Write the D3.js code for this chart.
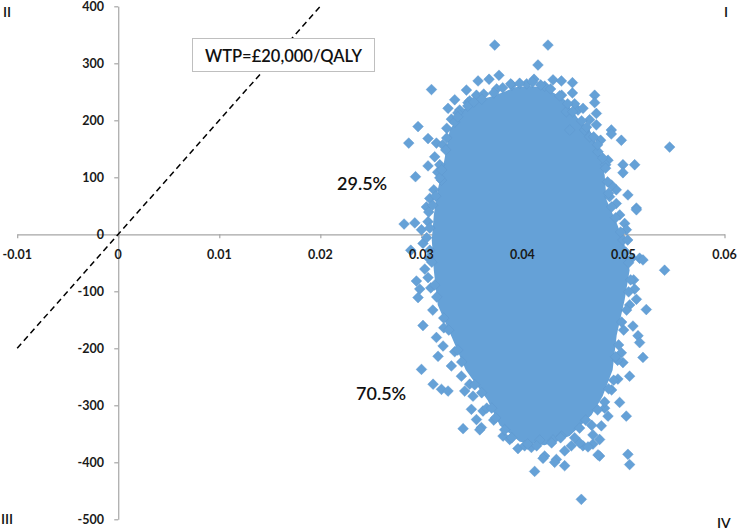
<!DOCTYPE html>
<html><head><meta charset="utf-8">
<script src="https://cdn.jsdelivr.net/npm/d3@7"></script>
<style>
html,body{margin:0;padding:0;background:#fff;}
svg{display:block;}
</style></head>
<body>
<svg id="chart" width="740" height="530"></svg>
<script>
// ---- data ----
const xTicks = [-0.01, 0, 0.01, 0.02, 0.03, 0.04, 0.05, 0.06];
const xTickLabels = ["-0.01", "0", "0.01", "0.02", "0.03", "0.04", "0.05", "0.06"];
const yTicks = [400, 300, 200, 100, 0, -100, -200, -300, -400, -500];
const yTickLabels = ["400", "300", "200", "100", "0", "-100", "-200", "-300", "-400", "-500"];
const wtpThreshold = 20000;               // £ per QALY
const wtpEffectRange = [-0.01, 0.02];
const wtpLabel = "WTP=£20,000/QALY";
const quadrantLabels = ["I", "II", "III", "IV"];
const shareAbove = "29.5%";
const shareBelow = "70.5%";

// dense core of the simulation cloud (outline: incremental QALY, incremental cost)
const coreEffect = [0.03676,0.03824,0.03923,0.04072,0.04220,0.04329,0.04418,0.04546,0.04665,0.04764,0.04814,0.04833,0.04942,0.05012,0.05061,0.05012,0.04933,0.04893,0.04794,0.04685,0.04467,0.04220,0.03973,0.03775,0.03656,0.03439,0.03300,0.03162,0.03123,0.03103,0.03123,0.03162,0.03222,0.03281,0.03410,0.03558];
const coreCost   = [241,250,258,260,257,246,236,204,183,148,104,60,16,-19,-63,-115,-177,-238,-284,-317,-354,-370,-364,-335,-291,-238,-180,-124,-63,-10,34,78,125,183,218,236];

// individual simulations visible around the core
const pointEffect = [
0.03726,0.04253,0.04154,0.03768,0.03100,0.03561,0.03670,0.03446,0.03545,0.03330,
0.03264,0.04115,0.04303,0.04386,0.04495,0.04495,0.04715,0.04715,0.04732,0.04732,
0.04435,0.04550,0.04600,0.02967,0.04880,0.03461,0.03379,0.03297,0.02875,0.03066,
0.03149,0.03132,0.03182,0.03066,0.02942,0.03199,0.03083,0.03050,0.02829,0.02935,
0.03066,0.03001,0.04880,0.04979,0.05457,0.04468,0.04616,0.04665,0.04748,0.04847,
0.04995,0.05111,0.04995,0.04929,0.05044,0.05128,0.04863,0.04929,0.05012,0.05029,
0.05128,0.04995,0.05160,0.05193,0.05407,0.03016,0.02895,0.03034,0.03066,0.02951,
0.02984,0.02967,0.03016,0.03149,0.03215,0.03165,0.03001,0.03116,0.03199,0.03264,
0.03297,0.03396,0.03429,0.03511,0.03495,0.03610,0.03545,0.03594,0.03413,0.03808,
0.03874,0.03956,0.04089,0.04121,0.05111,0.05128,0.05226,0.05094,0.05144,0.05160,
0.05193,0.04979,0.04995,0.05061,0.04945,0.04962,0.05028,0.04847,0.04781,0.04764,
0.04698,0.04764,0.05044,0.05061,0.04599,0.04484,0.04418,0.04336,0.04418,0.04220,
0.04583,0.04319,0.04204,0.04748,0.04566,0.04649,0.04303,0.04386,0.04698,0.03578,
0.03617,0.03745,0.03894,0.04042,0.04220,0.03478,0.03360,0.03251,0.03211,0.03162,
0.03123,0.03073,0.03053,0.03073,0.03093,0.03113,0.03222,0.03330,0.03478,0.03647,
0.03716,0.04022,0.04171,0.04517,0.04685,0.04814,0.04883,0.04942,0.05002,0.05061,
0.05101,0.05081,0.05042,0.04963,0.04883,0.04824,0.04774,0.04665,0.04517,0.04388,
0.03597,0.03716,0.03805,0.03884,0.03973,0.04101,0.04181,0.04279,0.04368,0.04448,
0.04497,0.04586,0.04635,0.04705,0.04744,0.04794,0.04823,0.04843,0.04853,0.04883,
0.04922,0.04972,0.05021,0.05051,0.05071,0.05051,0.05031,0.04982,0.04952,0.04922,
0.04903,0.04853,0.04814,0.04744,0.04626,0.04566,0.04378,0.04289,0.04141,0.04052,
0.03894,0.03825,0.03735,0.03696,0.03597,0.03528,0.03399,0.03360,0.03271,0.03221,
0.03152,0.03132,0.03103,0.03083,0.03083,0.03112,0.03142,0.03182,0.03201,0.03241,
0.03251,0.03330,0.03360,0.03459,0.03518];
const pointCost = [
332,332,297,279,254,269,272,253,244,236,
221,272,271,269,266,248,244,231,212,192,
215,218,221,189,183,231,218,202,160,168,
160,136,122,120,101,95,63,48,18,20,
22,8,176,165,153,183,183,171,145,130,
122,122,108,78,69,46,66,54,19,8,
43,-10,-42,-45,-63,-16,-28,-61,-76,-82,
-96,-111,-160,-181,-196,-214,-237,-263,-272,-275,
-231,-249,-275,-284,-307,-310,-325,-339,-341,-354,
-360,-376,-374,-416,-96,-114,-132,-161,-178,-190,
-216,-208,-225,-249,-254,-295,-319,-319,-336,-360,
-368,-389,-386,-404,-371,-371,-380,-395,-406,-389,
-465,-400,-393,-387,-366,-373,-361,-354,-352,-343,
246,255,262,264,260,234,213,186,157,109,
78,39,-6,-42,-94,-133,-164,-206,-263,-305,
-326,-371,-361,-357,-335,-305,-273,-221,-168,-124,
-80,-42,-10,34,86,122,165,201,229,244,
237,248,257,264,265,267,262,255,243,229,
215,199,188,171,157,134,116,92,72,48,
29,4,-31,-50,-80,-101,-133,-154,-194,-215,
-256,-271,-294,-308,-326,-340,-357,-366,-371,-368,
-357,-343,-322,-305,-278,-264,-224,-203,-168,-147,
-110,-89,-49,-28,11,51,67,99,113,148,
169,197,206,225,232];

// ---- drawing ----
const svg = d3.select("#chart");
const x = d3.scaleLinear().domain([-0.01, 0.06]).range([17.2, 724.5]);
const y = d3.scaleLinear().domain([-500, 400]).range([519.3, 6.3]);
const axisColor = "#a6a6a6";
const dotColor = "#65a1d7";
const tickFont = "Lato, 'Open Sans', sans-serif";

// x axis (at cost 0)
const xAxisG = svg.append("g").attr("transform", `translate(0,${y(0)})`)
  .call(d3.axisBottom(x).tickValues(xTicks).tickSize(4).tickSizeOuter(0).tickFormat(""));
xAxisG.select(".domain").attr("stroke", axisColor).attr("stroke-width", 1.2);
xAxisG.selectAll(".tick line").attr("stroke", axisColor).attr("stroke-width", 1.2);

// y axis (at effect 0)
const yAxisG = svg.append("g").attr("transform", `translate(${x(0)},0)`)
  .call(d3.axisLeft(y).tickValues(yTicks).tickSize(4).tickSizeOuter(0).tickFormat(""));
yAxisG.select(".domain").attr("stroke", axisColor).attr("stroke-width", 1.2);
yAxisG.selectAll(".tick line").attr("stroke", axisColor).attr("stroke-width", 1.2);

// WTP threshold line
svg.append("line")
  .attr("x1", x(wtpEffectRange[0])).attr("y1", y(wtpEffectRange[0] * wtpThreshold))
  .attr("x2", x(wtpEffectRange[1])).attr("y2", y(wtpEffectRange[1] * wtpThreshold))
  .attr("stroke", "#000").attr("stroke-width", 1.5).attr("stroke-dasharray", "6,4");

// dense core
const core = coreEffect.map((e, i) => [x(e), y(coreCost[i])]);
svg.append("path")
  .attr("d", d3.line().curve(d3.curveLinearClosed)(core))
  .attr("fill", dotColor);

// diamonds
const diamond = d3.symbol().type(d3.symbolSquare).size(58);
svg.append("g").selectAll("path").data(pointEffect.map((e, i) => [e, pointCost[i]]))
  .join("path")
  .attr("d", diamond)
  .attr("transform", d => `translate(${x(d[0])},${y(d[1])}) rotate(45)`)
  .attr("fill", dotColor)
  .attr("stroke", "#5d96cc").attr("stroke-width", 0.4);

// tick labels (drawn above the cloud)
svg.append("g").selectAll("text").data(xTicks).join("text")
  .attr("x", d => x(d)).attr("y", 259)
  .attr("text-anchor", "middle")
  .attr("font-family", tickFont).attr("font-weight", 700).attr("font-size", 12.5)
  .attr("fill", "#1a1a1a")
  .text((d, i) => xTickLabels[i]);
svg.append("g").selectAll("text").data(yTicks).join("text")
  .attr("x", 104).attr("y", d => y(d) + 4.5)
  .attr("text-anchor", "end")
  .attr("font-family", tickFont).attr("font-weight", 700).attr("font-size", 12.5)
  .attr("fill", "#1a1a1a")
  .text((d, i) => yTickLabels[i]);

// WTP label box
const boxG = svg.append("g");
boxG.append("rect").attr("x", 192.5).attr("y", 38.5).attr("width", 182).attr("height", 33)
  .attr("fill", "#fff").attr("stroke", "#bfbfbf").attr("stroke-width", 1);
boxG.append("text").attr("x", 283.5).attr("y", 62)
  .attr("text-anchor", "middle")
  .attr("font-family", "Lato, sans-serif").attr("font-size", 16.5).attr("font-weight", 600)
  .attr("fill", "#111")
  .text(wtpLabel);

// quadrant labels
const qFont = "Lato, sans-serif";
const qPos = [[724, 17, "start"], [3, 17, "start"], [1, 524, "start"], [717, 528, "start"]];
svg.append("g").selectAll("text").data(quadrantLabels).join("text")
  .attr("x", (d, i) => qPos[i][0]).attr("y", (d, i) => qPos[i][1])
  .attr("text-anchor", (d, i) => qPos[i][2])
  .attr("font-family", qFont).attr("font-size", 14).attr("font-weight", 600)
  .attr("fill", "#111")
  .text(d => d);

// share labels
svg.append("text").attr("x", 337).attr("y", 190)
  .attr("font-family", qFont).attr("font-size", 18).attr("font-weight", 600)
  .attr("fill", "#111").text(shareAbove);
svg.append("text").attr("x", 356).attr("y", 400)
  .attr("font-family", qFont).attr("font-size", 18).attr("font-weight", 600)
  .attr("fill", "#111").text(shareBelow);
</script>
</body></html>
